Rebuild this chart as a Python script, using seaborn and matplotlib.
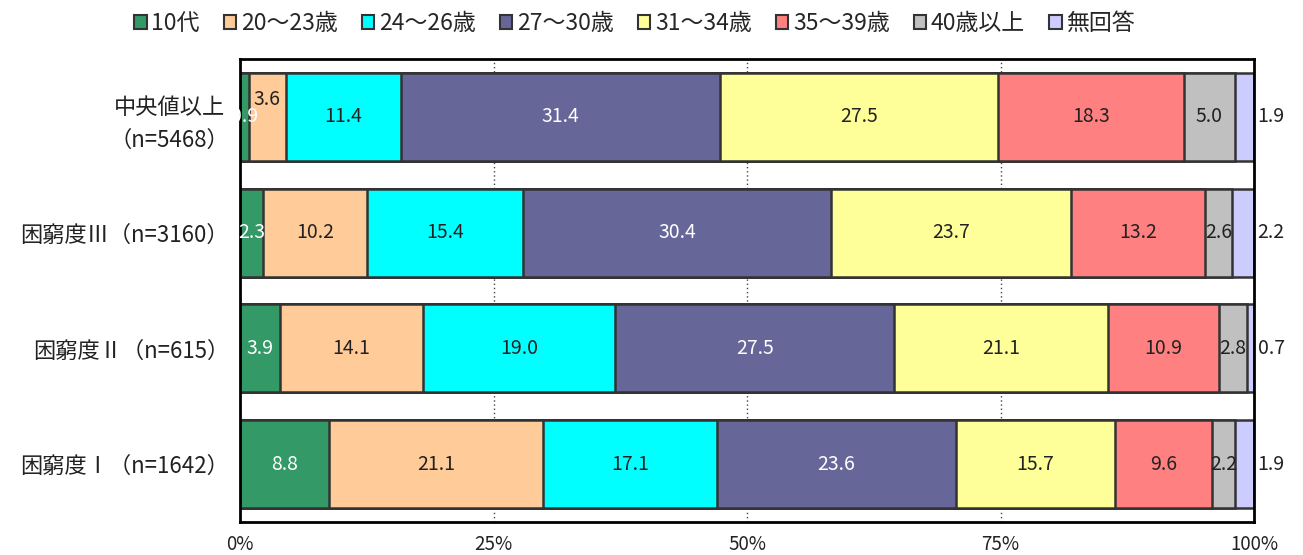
import numpy as np
import pandas as pd
import matplotlib
matplotlib.use("Agg")
import matplotlib.pyplot as plt
import seaborn as sns
from matplotlib.patches import Patch

categories = ["中央値以上\n（n=5468）", "困窮度Ⅲ（n=3160）", "困窮度Ⅱ（n=615）", "困窮度Ⅰ（n=1642）"]
series_names = ["10代", "20～23歳", "24～26歳", "27～30歳", "31～34歳", "35～39歳", "40歳以上", "無回答"]
s_10 = [0.9, 2.3, 3.9, 8.8]
s_20_23 = [3.6, 10.2, 14.1, 21.1]
s_24_26 = [11.4, 15.4, 19.0, 17.1]
s_27_30 = [31.4, 30.4, 27.5, 23.6]
s_31_34 = [27.5, 23.7, 21.1, 15.7]
s_35_39 = [18.3, 13.2, 10.9, 9.6]
s_40 = [5.0, 2.6, 2.8, 2.2]
s_na = [1.9, 2.2, 0.7, 1.9]
x_ticks = [0, 25, 50, 75, 100]
x_tick_labels = ["0%", "25%", "50%", "75%", "100%"]

colors = ["#339966", "#FFCC99", "#00FFFF", "#666699", "#FFFF99", "#FF8080", "#C0C0C0", "#CCCCFF"]
text_colors = ["white", "#222222", "#222222", "white", "#222222", "#222222", "#222222", "#222222"]

sns.set_theme(style="white")
plt.rcParams["font.family"] = ["Noto Sans CJK JP", "DejaVu Sans"]

series = [s_10, s_20_23, s_24_26, s_27_30, s_31_34, s_35_39, s_40, s_na]
vals = np.array(series)  # shape (8, 4)
cum = np.cumsum(vals, axis=0)

fig = plt.figure(figsize=(13.03, 5.55), dpi=100)
ax = fig.add_axes([0.1842, 0.0595, 0.7782, 0.8342])

for i in range(len(series) - 1, -1, -1):
    df = pd.DataFrame({"cat": categories, "val": cum[i]})
    sns.barplot(data=df, x="val", y="cat", orient="h", color=colors[i],
                saturation=1, width=0.76, edgecolor="#333333", linewidth=1.8,
                ax=ax, zorder=2)

for j in range(len(categories)):
    for i in range(len(series)):
        v = vals[i, j]
        center = cum[i, j] - v / 2
        y = j
        x = center
        if i == len(series) - 1:
            x = 101.7
            c = "#222222"
        else:
            c = text_colors[i]
        if j == 0 and i == 1:
            y = j - 0.15
        ax.text(x, y, f"{v:.1f}", ha="center", va="center", fontsize=14,
                color=c, zorder=5, clip_on=False)

ax.set_xlim(0, 100)
ax.set_ylim(3.5, -0.5)
ax.set_xticks(x_ticks)
ax.set_xticklabels(x_tick_labels, fontsize=13.5, color="#222222")
ax.tick_params(axis="y", labelsize=16, colors="#222222", length=0, pad=8)
ax.tick_params(axis="x", length=0, pad=9)
for lab in ax.get_yticklabels():
    lab.set_multialignment("center")
    lab.set_linespacing(1.5)
ax.set_xlabel("")
ax.set_ylabel("")
for xv in [25, 50, 75]:
    ax.axvline(xv, color="#444444", linestyle=(0, (1, 2)), linewidth=1.0, zorder=0)
for sp in ax.spines.values():
    sp.set_visible(True)
    sp.set_color("black")
    sp.set_linewidth(2)
    sp.set_zorder(4)

handles = [Patch(facecolor=colors[i], edgecolor="#333333", linewidth=1.5, label=series_names[i])
           for i in range(len(series))]
fig.legend(handles=handles, loc="upper center", bbox_to_anchor=(0.487, 1.015), ncol=8,
           frameon=False, fontsize=16.5, handlelength=0.55, handleheight=0.55,
           handletextpad=0.2, columnspacing=1.05)

fig.savefig("out.png", dpi=100)
